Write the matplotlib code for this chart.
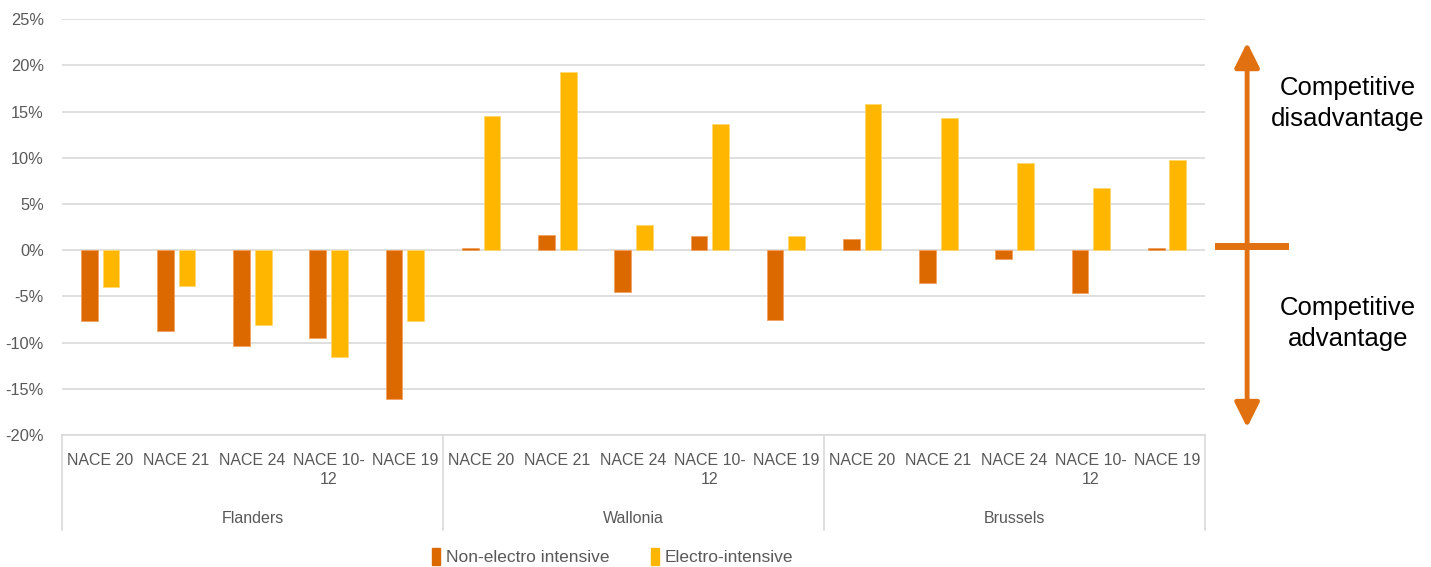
import numpy as np
import matplotlib
matplotlib.use("Agg")
import matplotlib.pyplot as plt
from matplotlib.lines import Line2D
from matplotlib.patches import Patch

regions = ["Flanders", "Wallonia", "Brussels"]
sectors = ["NACE 20", "NACE 21", "NACE 24", "NACE 10-\n12", "NACE 19"]
non_electro = [-7.7, -8.8, -10.4, -9.5, -16.1,
               0.2, 1.6, -4.5, 1.5, -7.6,
               1.2, -3.6, -1.0, -4.6, 0.2]
electro = [-4.0, -3.9, -8.1, -11.6, -7.7,
           14.5, 19.3, 2.7, 13.7, 1.5,
           15.8, 14.3, 9.4, 6.7, 9.8]

C_NON = "#DC6900"
C_EL = "#FFB600"
GREY = "#595959"
FONT = ["Liberation Sans", "DejaVu Sans"]


def main():
    plt.rcParams["font.family"] = FONT
    fig = plt.figure(figsize=(14.31, 5.67), dpi=100)
    ax = fig.add_axes([0.0433, 0.233, 0.7988, 0.733])

    n = len(non_electro)
    x = np.arange(n)
    w = 0.22
    ax.bar(x - 0.142, non_electro, w, color=C_NON, edgecolor="#F0A060", linewidth=0.6, zorder=3)
    ax.bar(x + 0.142, electro, w, color=C_EL, edgecolor="#FFD870", linewidth=0.6, zorder=3)

    ax.set_xlim(-0.5, n - 0.5)
    ax.set_ylim(-20, 25)
    ax.set_yticks(np.arange(-20, 26, 5))
    ax.set_yticklabels([f"{v}%" for v in range(-20, 26, 5)])
    ax.grid(axis="y", color="#D9D9D9", linewidth=1.2, zorder=0)
    for s in ["top", "right", "left"]:
        ax.spines[s].set_visible(False)
    ax.spines["bottom"].set_color("#D9D9D9")
    ax.spines["bottom"].set_linewidth(1.2)

    ax.set_xticks(x)
    ax.set_xticklabels(sectors * len(regions))
    for lab in ax.get_xticklabels():
        lab.set_linespacing(1.35)
    ax.tick_params(axis="x", length=0, pad=13, labelsize=11.5, labelcolor=GREY)
    ax.tick_params(axis="y", length=0, pad=13, labelsize=11.8, labelcolor=GREY)

    # group separators and region labels
    k = len(sectors)
    for i in range(len(regions) + 1):
        ax.plot([i * k - 0.5, i * k - 0.5], [0, -0.228], color="#D9D9D9", lw=1.2,
                transform=ax.get_xaxis_transform(), clip_on=False)
    for i, r in enumerate(regions):
        ax.text(i * k + (k - 1) / 2, -0.2, r, transform=ax.get_xaxis_transform(),
                ha="center", va="center", fontsize=11.5, color=GREY)

    handles = [Patch(color=C_NON), Patch(color=C_EL)]
    fig.legend(handles, ["Non-electro intensive", "Electro-intensive"], loc="center",
               bbox_to_anchor=(0.428, 0.018), ncol=2, frameon=False, fontsize=12.5,
               labelcolor=GREY, handlelength=0.45, handleheight=1.1, handletextpad=0.35,
               columnspacing=2.4)

    # competitiveness arrow
    ax.annotate("", xy=(0.8715, 0.925), xytext=(0.8715, 0.246), xycoords="figure fraction",
                textcoords="figure fraction",
                arrowprops=dict(arrowstyle="<|-|>,head_length=1.5,head_width=0.75",
                                color="#E07010", lw=3.5, shrinkA=0, shrinkB=0))
    fig.add_artist(Line2D([0.851, 0.898], [0.567, 0.567], color="#E07010", lw=5,
                          transform=fig.transFigure))
    fig.text(0.942, 0.818, "Competitive\ndisadvantage", ha="center", va="center",
             fontsize=18.5, linespacing=1.35, color="black")
    fig.text(0.942, 0.430, "Competitive\nadvantage", ha="center", va="center",
             fontsize=18.5, linespacing=1.35, color="black")

    fig.savefig("out.png", dpi=100)


if __name__ == "__main__":
    main()
